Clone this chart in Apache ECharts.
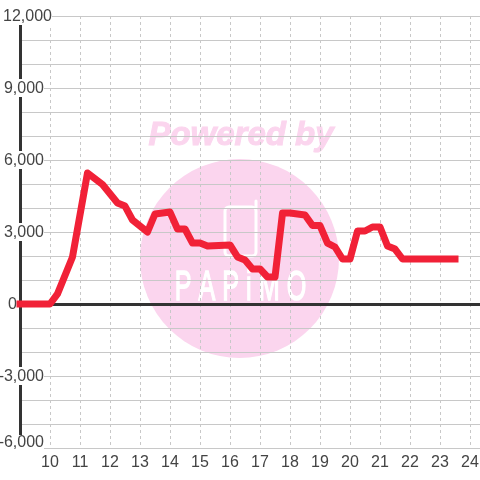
<!DOCTYPE html>
<html>
<head>
<meta charset="utf-8">
<style>html,body{margin:0;padding:0;background:#fff}#c{width:480px;height:480px}</style>
<script src="https://cdn.jsdelivr.net/npm/echarts@6/dist/echarts.min.js"></script>
</head>
<body>
<div id="c"></div>
<script>
const hours = [9,10,10.25,10.75,11.25,11.75,12.25,12.5,12.75,13.25,13.5,14,14.25,14.5,14.75,15,15.25,16,16.25,16.5,16.75,17,17.25,17.5,17.75,18,18.25,18.5,18.75,19,19.25,19.5,19.75,20,20.25,20.5,20.75,21,21.25,21.5,21.75,23.5];
const values = [0,0,420,1960,5460,4980,4210,4080,3500,3000,3750,3830,3125,3125,2540,2540,2420,2460,1960,1830,1460,1460,1125,1125,3790,3790,3750,3710,3270,3270,2540,2375,1875,1875,3040,3040,3210,3210,2420,2290,1875,1875];
const yTickLabels = {"12000":"12,000","9000":"9,000","6000":"6,000","3000":"3,000","0":"0","-3000":"-3,000","-6000":"-6,000"};
const xMin = 9, xMax = 24.3333;

const font = 'Liberation Sans';
const ink = '#444444', grid = '#c8c8c8', dark = '#333333', red = '#f12137', pink = '#fbd5ee';
const chart = echarts.init(document.getElementById('c'), null, {renderer:'canvas'});
chart.setOption({
  animation:false,
  backgroundColor:'#ffffff',
  textStyle:{fontFamily:font},
  grid:{left:20,right:0,top:16,bottom:32,containLabel:false,outerBoundsMode:'none'},
  graphic:[
    {type:'circle',z:-10,silent:true,shape:{cx:239.5,cy:258.5,r:99.5},style:{fill:pink}},
    {type:'text',z:-10,silent:true,x:241,y:136,style:{text:'Powered by',fill:pink,stroke:pink,lineWidth:1,font:'italic bold 33px "Liberation Sans"',align:'center',verticalAlign:'middle'}},
    {type:'rect',z:-9,silent:true,shape:{x:225,y:207,width:31,height:49,r:4},style:{fill:'none',stroke:'#fff',lineWidth:3}},
    {type:'line',z:-9,silent:true,shape:{x1:256,y1:208,x2:256,y2:201},style:{stroke:'#fff',lineWidth:3,lineCap:'round'}},
    {type:'text',z:-9,silent:true,x:240.5,y:288,scaleX:0.6,style:{text:'P A P i M O',fill:'#fff',stroke:'#fff',lineWidth:1.5,font:'42px "Liberation Sans"',align:'center',verticalAlign:'middle'}}
  ],
  xAxis:[
    {type:'value',min:xMin,max:xMax,interval:1,position:'bottom',
      axisLine:{onZero:false,show:true,lineStyle:{color:grid,width:1}},
      axisTick:{show:false},
      splitLine:{show:true,lineStyle:{color:grid,type:[3,3],width:1}},
      axisLabel:{color:ink,fontFamily:font,fontSize:16,margin:7,hideOverlap:false,showMinLabel:true,showMaxLabel:false,
        formatter:v=>(Number.isInteger(v)&&v>xMin)?String(v):''}},
    {type:'value',min:xMin,max:xMax,interval:1,
      axisLine:{onZero:true,show:true,lineStyle:{color:dark,width:3}},
      axisTick:{show:false},splitLine:{show:false},axisLabel:{show:false}}
  ],
  yAxis:{type:'value',min:-6000,max:12000,interval:1000,position:'left',
    axisLine:{show:true,onZero:false,lineStyle:{color:dark,width:3}},
    axisTick:{show:false},
    splitLine:{show:true,lineStyle:{color:grid,width:1}},
    axisLabel:{show:true,color:ink,fontFamily:font,fontSize:16,margin:-32,align:'right',hideOverlap:false,
      formatter:v=>{
        const t=yTickLabels[String(v)];
        if(!t) return '';
        if(v===12000) return '{b|'+t+'}';
        if(v===0) return '{p|'+t+'}{g0|}';
        if(v===-6000) return '{m|'+t+'}{g|}';
        return '{b|'+t+'}{g|}';
      },
      rich:{
        b:{backgroundColor:'#fff',fontFamily:font,fontSize:16,color:ink,lineHeight:16,height:16,padding:[2,0,0,0]},
        m:{backgroundColor:'#fff',fontFamily:font,fontSize:16,color:ink,lineHeight:16,height:16,padding:[0,0,10,0]},
        p:{fontFamily:font,fontSize:16,color:ink,padding:[2,0,0,0]},
        g:{width:8,height:1},
        g0:{width:35,height:1}
      }}
  },
  series:[{type:'line',xAxisIndex:0,yAxisIndex:0,symbol:'none',silent:true,
    data:hours.map((h,i)=>[h,values[i]]),
    lineStyle:{color:red,width:7,cap:'square',join:'round'}}]
});
</script>
</body>
</html>
